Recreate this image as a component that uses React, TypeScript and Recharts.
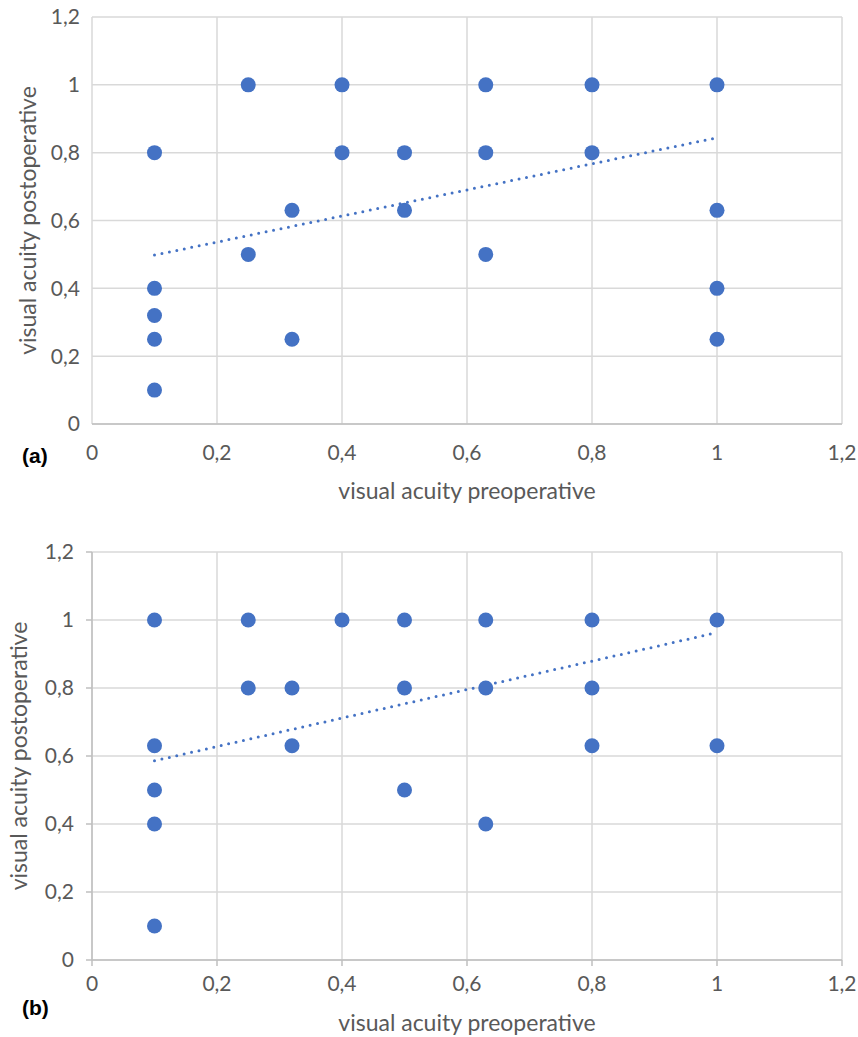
import React from 'react';
import { ScatterChart, Scatter, XAxis, YAxis, CartesianGrid, ReferenceLine } from 'recharts';

// shared axis ticks (both axes, both panels)
const TICKS = [0, 0.2, 0.4, 0.6, 0.8, 1, 1.2];

// panel (a)
const PRE_A = [0.1, 0.1, 0.1, 0.1, 0.1, 0.25, 0.25, 0.32, 0.32, 0.4, 0.4, 0.5, 0.5, 0.63, 0.63, 0.63, 0.8, 0.8, 1, 1, 1, 1];
const POST_A = [0.8, 0.4, 0.32, 0.25, 0.1, 1, 0.5, 0.63, 0.25, 1, 0.8, 0.8, 0.63, 1, 0.8, 0.5, 1, 0.8, 1, 0.63, 0.4, 0.25];
const TREND_A_X = [0.1, 1];
const TREND_A_Y = [0.498, 0.844];

// panel (b)
const PRE_B = [0.1, 0.1, 0.1, 0.1, 0.1, 0.25, 0.25, 0.32, 0.32, 0.4, 0.5, 0.5, 0.5, 0.63, 0.63, 0.63, 0.8, 0.8, 0.8, 1, 1];
const POST_B = [1, 0.63, 0.5, 0.4, 0.1, 1, 0.8, 0.8, 0.63, 1, 1, 0.8, 0.5, 1, 0.8, 0.4, 1, 0.8, 0.63, 1, 0.63];
const TREND_B_X = [0.1, 1];
const TREND_B_Y = [0.586, 0.963];

const X_TITLE = 'visual acuity preoperative';
const Y_TITLE = 'visual acuity postoperative';

const BLUE = '#4472C4';
const TEXT = '#595959';
const GRID = '#D9D9D9';
const AXIS = '#BFBFBF';
const FONT = 'Lato, "Open Sans", sans-serif';

const fmt = (v: number) => String(v).replace('.', ',');

const Dot = (p: any) => <circle cx={p.cx} cy={p.cy} r={7.5} fill={BLUE} />;

interface PanelProps {
  pre: number[];
  post: number[];
  trendX: number[];
  trendY: number[];
  tag: string;
  height: number;
  marginTop: number;
  xAxisHeight: number;
  marginBottom: number;
  showTicks: boolean;
  yTitleX: number;
  yTickMargin: number;
  xTickMargin: number;
  xTitleDy: number;
  tagDy: number;
}

const Panel: React.FC<PanelProps> = (props) => {
  const data = props.pre.map((x, i) => ({ x, y: props.post[i] }));
  const tickSize = props.showTicks ? 6 : 0;

  const xLabel = (lp: any) => {
    const vb = lp.viewBox || {};
    return (
      <g>
        <text
          x={vb.x + vb.width / 2}
          y={vb.y + props.xTitleDy}
          textAnchor="middle"
          dominantBaseline="central"
          fill={TEXT}
          fontSize={23}
          fontFamily={FONT}
        >
          {X_TITLE}
        </text>
        <text
          x={22}
          y={vb.y + props.tagDy}
          dominantBaseline="central"
          fill="#000"
          fontSize={21}
          fontWeight="bold"
          fontFamily="'Liberation Sans', Arial, sans-serif"
        >
          {props.tag}
        </text>
      </g>
    );
  };

  const yLabel = (lp: any) => {
    const vb = lp.viewBox || {};
    const cy = vb.y + vb.height / 2;
    const cx = props.yTitleX;
    return (
      <text
        x={cx}
        y={cy}
        transform={`rotate(-90 ${cx} ${cy})`}
        textAnchor="middle"
        dominantBaseline="central"
        fill={TEXT}
        fontSize={23}
        fontFamily={FONT}
      >
        {Y_TITLE}
      </text>
    );
  };

  const tick = { fill: TEXT, fontSize: 21, fontFamily: FONT };

  return (
    <ScatterChart
      width={858}
      height={props.height}
      margin={{ top: props.marginTop, right: 16, bottom: props.marginBottom, left: 30 }}
    >
      <CartesianGrid stroke={GRID} strokeWidth={1.5} />
      <XAxis
        type="number"
        dataKey="x"
        domain={[0, 1.2]}
        ticks={TICKS}
        tickFormatter={fmt}
        tick={tick}
        height={props.xAxisHeight}
        tickSize={tickSize}
        tickMargin={props.xTickMargin}
        tickLine={props.showTicks ? { stroke: AXIS, strokeWidth: 1.5 } : false}
        axisLine={{ stroke: AXIS, strokeWidth: 1.5 }}
        label={xLabel}
      />
      <YAxis
        type="number"
        dataKey="y"
        domain={[0, 1.2]}
        ticks={TICKS}
        tickFormatter={fmt}
        tick={tick}
        width={62}
        tickSize={tickSize}
        tickMargin={props.yTickMargin}
        tickLine={props.showTicks ? { stroke: AXIS, strokeWidth: 1.5 } : false}
        axisLine={props.showTicks ? { stroke: AXIS, strokeWidth: 1.5 } : false}
        label={yLabel}
      />
      <Scatter data={data} fill={BLUE} shape={Dot} isAnimationActive={false} />
      <ReferenceLine
        segment={[
          { x: props.trendX[0], y: props.trendY[0] },
          { x: props.trendX[1], y: props.trendY[1] },
        ]}
        stroke={BLUE}
        strokeWidth={3}
        strokeDasharray="0 7.6"
        strokeLinecap="round"
        ifOverflow="visible"
      />
    </ScatterChart>
  );
};

export default function App() {
  return (
    <div style={{ position: 'absolute', left: 0, top: 0, width: 858, height: 1037, background: '#fff' }}>
      <Panel
        pre={PRE_A}
        post={POST_A}
        trendX={TREND_A_X}
        trendY={TREND_A_Y}
        tag="(a)"
        height={530}
        marginTop={17}
        xAxisHeight={80}
        marginBottom={26}
        showTicks={false}
        yTitleX={27}
        yTickMargin={12}
        xTickMargin={21}
        xTitleDy={66}
        tagDy={31}
      />
      <Panel
        pre={PRE_B}
        post={POST_B}
        trendX={TREND_B_X}
        trendY={TREND_B_Y}
        tag="(b)"
        height={507}
        marginTop={22}
        xAxisHeight={70}
        marginBottom={7}
        showTicks={true}
        yTitleX={18}
        yTickMargin={12}
        xTickMargin={10}
        xTitleDy={62}
        tagDy={47}
      />
    </div>
  );
}
